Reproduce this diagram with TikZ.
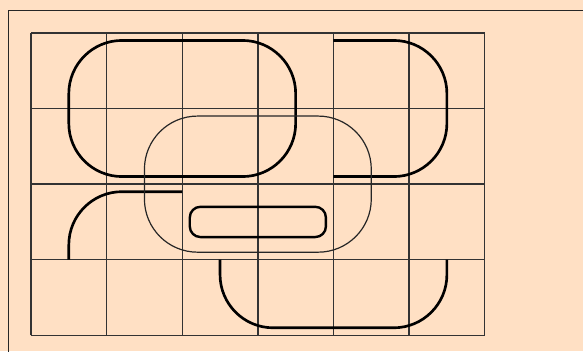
\documentclass[tikz,border=0pt]{standalone}
\usepackage{xcolor}
\usepackage{tikz}

\definecolor{paper}{RGB}{255,224,196}

\begin{document}
\begin{tikzpicture}[
  grid lines/.style={draw=black!80,line width=0.5pt},
  frame line/.style={draw=black!85,line width=0.5pt},
  outline/.style={draw=black,line width=1pt,rounded corners=20pt},
  thin outline/.style={draw=black!85,line width=0.45pt,rounded corners=20pt}
]
  \useasboundingbox[fill=paper] (-0.41,-0.21) rectangle (7.30,4.435);
  \clip (-0.41,-0.21) rectangle (7.30,4.435);
  \draw[frame line] (-0.3,-1) rectangle (8,4.3);

  \draw[grid lines] (0,0) grid (6,4);

  % big box, top left
  \draw[outline] (0.5,2.1) rectangle (3.5,3.9);
  % box on the right, open on its left side
  \draw[outline] (4,3.9) -- (5.5,3.9) -- (5.5,2.1) [sharp corners] -- (4,2.1);
  % corner, lower left
  \draw[outline] (0.5,1) -- (0.5,1.9) -- (2,1.9);
  % cup at the bottom
  \draw[outline] (2.5,1) -- (2.5,0.1) -- (5.5,0.1) -- (5.5,1);
  % thin box in the middle
  \draw[thin outline] (1.5,1.1) rectangle (4.5,2.9);
  % small box
  \draw[draw=black,line width=0.9pt,rounded corners] (2.1,1.3) rectangle (3.9,1.7);
\end{tikzpicture}
\end{document}
